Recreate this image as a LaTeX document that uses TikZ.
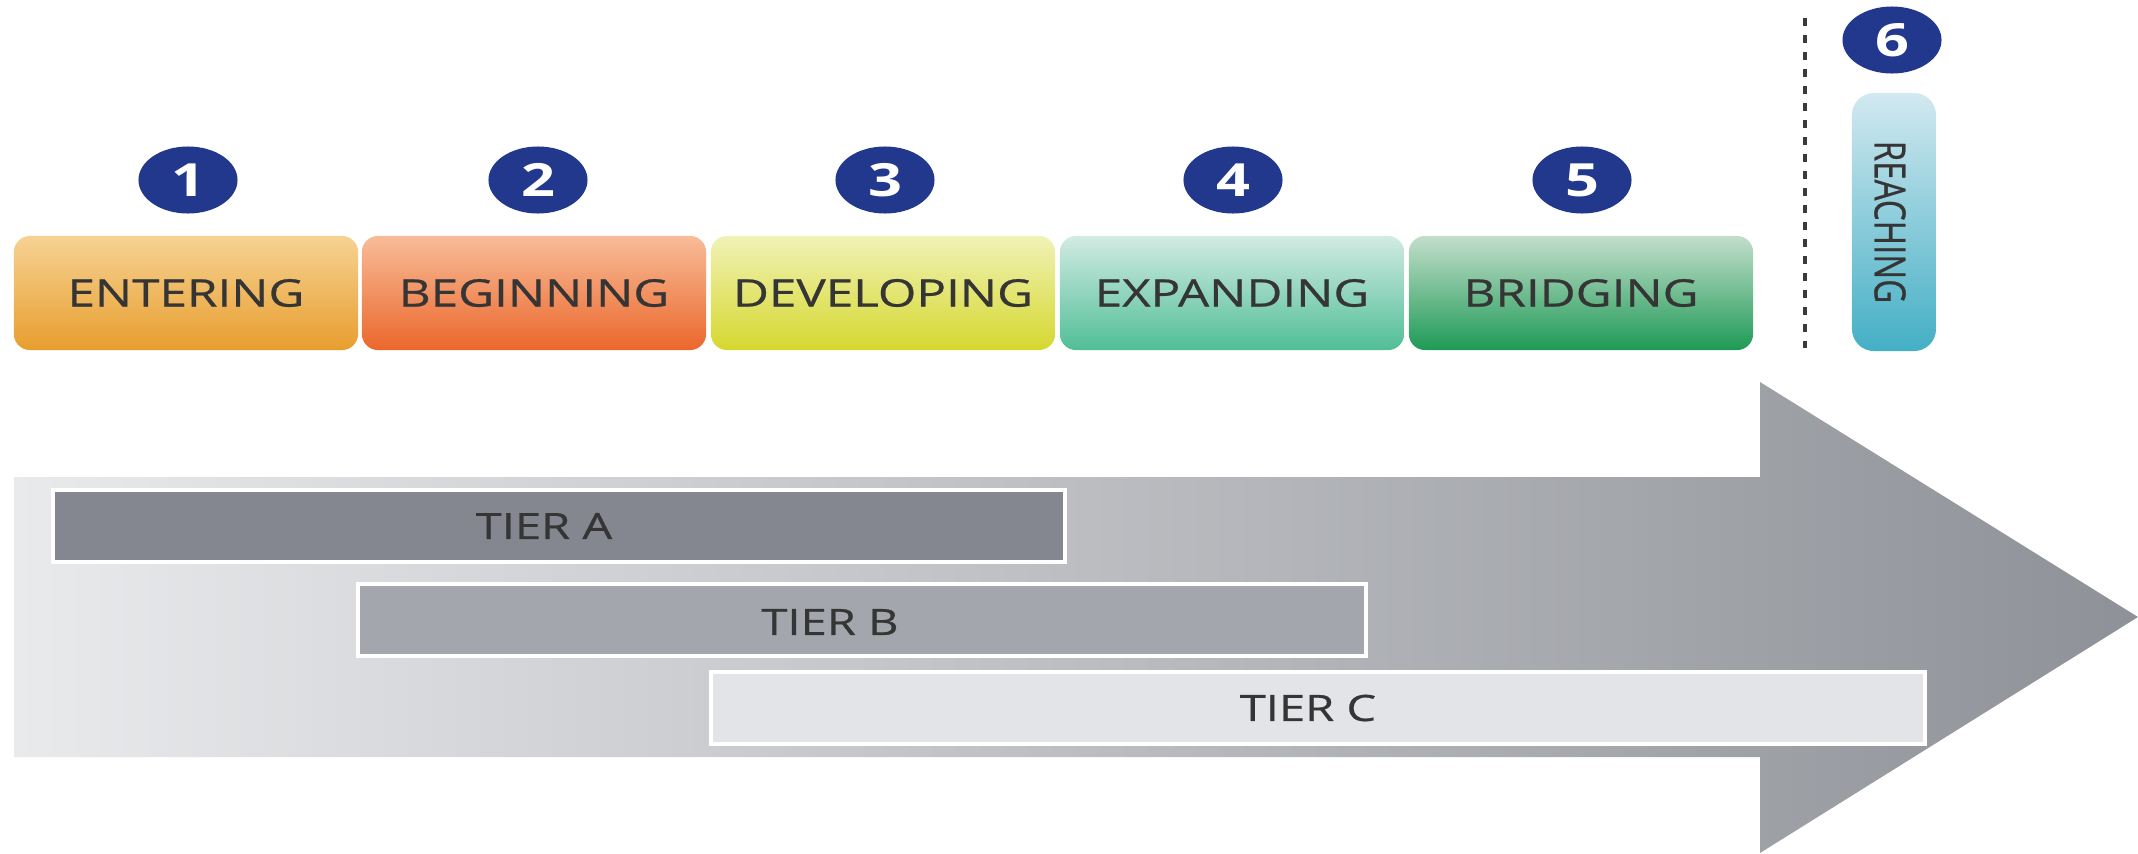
\documentclass[tikz,border=0pt]{standalone}
\usepackage{fontspec}
\setmainfont{Open Sans}
\newfontfamily\lblfont{Open Sans}[FakeStretch=1.3,FakeBold=0.6]
\newfontfamily\numfont{Open Sans}[FakeStretch=1.3]
\newfontfamily\rotfont{Open Sans}[FakeBold=0.6]
\usetikzlibrary{shapes.geometric}
\definecolor{navy}{HTML}{21388C}
\definecolor{txtgrey}{HTML}{353535}
\definecolor{enterT}{HTML}{F6D293}
\definecolor{enterB}{HTML}{E89E2E}
\definecolor{beginT}{HTML}{F8BC98}
\definecolor{beginB}{HTML}{EB672C}
\definecolor{develT}{HTML}{F1F2B6}
\definecolor{develB}{HTML}{D5D82E}
\definecolor{expandT}{HTML}{D2EBE3}
\definecolor{expandB}{HTML}{50BE97}
\definecolor{bridgeT}{HTML}{C3DECB}
\definecolor{bridgeB}{HTML}{1E9A56}
\definecolor{reachT}{HTML}{D2E9F0}
\definecolor{reachB}{HTML}{44AFC5}
\definecolor{arrowL}{HTML}{E9EAEC}
\definecolor{arrowM}{HTML}{BBBEC2}
\definecolor{arrowR}{HTML}{8E9197}
\definecolor{tierA}{HTML}{848790}
\definecolor{tierB}{HTML}{A3A6AC}
\definecolor{tierC}{HTML}{E2E4E7}
\definecolor{dashgrey}{HTML}{3A3A3A}
\begin{document}
\begin{tikzpicture}[x=0.01cm,y=-0.01cm,
  stagebox/.style={rounded corners=0.16cm, minimum width=3.44cm, minimum height=1.14cm,
    inner sep=0pt, text=txtgrey, font=\lblfont\fontsize{10.8}{12}\selectfont},
  numcirc/.style={ellipse, fill=navy, minimum width=0.99cm, minimum height=0.67cm, inner sep=0pt,
    text=white, font=\numfont\bfseries\fontsize{13}{14}\selectfont},
  tierbar/.style={draw=white, line width=1.1pt, minimum height=0.72cm, inner sep=0pt},
  tierlabel/.style={text=txtgrey, inner sep=0pt, font=\lblfont\fontsize{10.3}{12}\selectfont},
  dashline/.style={draw=dashgrey, line width=1.1pt, dash pattern=on 0.08cm off 0.09cm}
]
\useasboundingbox (0,0) rectangle (2138,854);

% big arrow
\shade[left color=arrowL, middle color=arrowM, right color=arrowR]
  (14,477) -- (1760,477) -- (1760,382) -- (2138,617) -- (1760,853) -- (1760,757) -- (14,757) -- cycle;

% stage boxes
\node[stagebox, top color=enterT, bottom color=enterB] (s1) at (186,293) {ENTERING};
\node[stagebox, top color=beginT, bottom color=beginB] (s2) at (534,293) {BEGINNING};
\node[stagebox, top color=develT, bottom color=develB] (s3) at (883,293) {DEVELOPING};
\node[stagebox, top color=expandT, bottom color=expandB] (s4) at (1232,293) {EXPANDING};
\node[stagebox, top color=bridgeT, bottom color=bridgeB] (s5) at (1581,293) {BRIDGING};

% numbers
\node[numcirc] (n1) at (188,180) {1};
\node[numcirc] (n2) at (538,180) {2};
\node[numcirc] (n3) at (885,180) {3};
\node[numcirc] (n4) at (1233,180) {4};
\node[numcirc] (n5) at (1582,180) {5};
\node[numcirc] (n6) at (1892,40) {6};

% reaching
\node[rounded corners=0.22cm, minimum width=0.84cm, minimum height=2.58cm, inner sep=0pt,
  top color=reachT, bottom color=reachB] (s6) at (1894,222) {};
\node[rotate=-90, text=txtgrey, inner sep=0pt]
  (s6l) at (1890,222) {\scalebox{1}[1.3]{\rotfont\fontsize{9.4}{11}\selectfont REACHING}};

% dashed separator
\coordinate (dtop) at (1805,18);
\coordinate (dbot) at (1805,348);
\draw[dashline] (dtop) -- (dbot);

% tiers
\node[tierbar, fill=tierA, minimum width=10.12cm] (ta) at (559,526) {};
\node[tierbar, fill=tierB, minimum width=10.08cm] (tb) at (862,620) {};
\node[tierbar, fill=tierC, minimum width=12.13cm] (tc) at (1318,708) {};
\node[tierlabel] (tal) at (544,526) {TIER A};
\node[tierlabel] (tbl) at (830,622) {TIER B};
\node[tierlabel] (tcl) at (1308,708) {TIER C};
\end{tikzpicture}
\end{document}
